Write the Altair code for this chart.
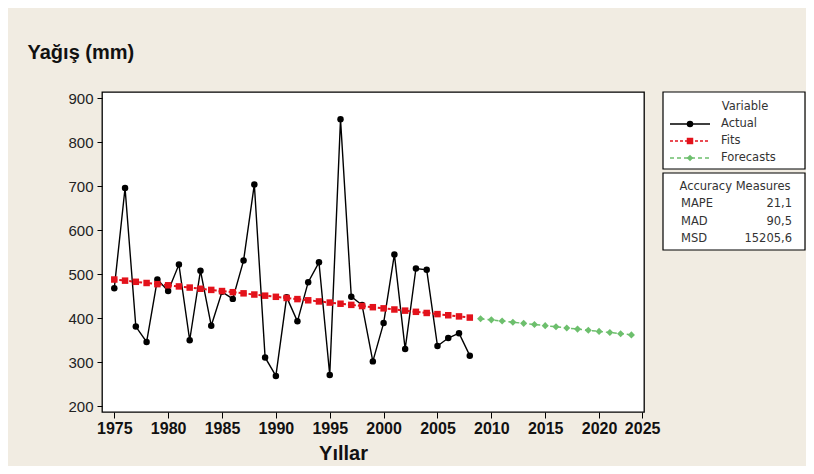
import json
import altair as alt
import pandas as pd

# ---------------- data ----------------
years_actual = list(range(1975, 2009))
actual = [468, 696, 381, 346, 488, 462, 522, 350, 508, 383,
          460, 444, 531, 704, 311, 269, 448, 393, 482, 527,
          271, 852, 449, 430, 302, 389, 545, 330, 513, 510,
          337, 355, 366, 315]
fits = [488.0, 485.4, 482.8, 480.1, 477.5, 474.9, 472.3, 469.7, 467.0, 464.4,
        461.8, 459.2, 456.6, 453.9, 451.3, 448.7, 446.1, 443.5, 440.8, 438.2,
        435.6, 433.0, 430.4, 427.7, 425.1, 422.5, 419.9, 417.3, 414.6, 412.0,
        409.4, 406.8, 404.2, 401.5]
years_forecast = list(range(2009, 2024))
forecasts = [398.9, 396.3, 393.7, 391.1, 388.4, 385.8, 383.2, 380.6, 378.0,
             375.3, 372.7, 370.1, 367.5, 364.9, 362.2]

x_tick_values = [1975, 1980, 1985, 1990, 1995, 2000, 2005, 2010, 2015, 2020, 2024]
x_tick_labels = ["1975", "1980", "1985", "1990", "1995", "2000", "2005",
                 "2010", "2015", "2020", "2025"]
y_tick_values = [200, 300, 400, 500, 600, 700, 800, 900]

series_names = ["Actual", "Fits", "Forecasts"]
series_colors = ["#000000", "#E3121B", "#6DBF6D"]
series_shapes = ["circle", "square", "diamond"]
series_dash = [[1, 0], [3, 2], [4, 3]]

measure_names = ["MAPE", "MAD", "MSD"]
measure_values = ["21,1", "90,5", "15205,6"]

BG = "#F1ECE2"
W, H = 542, 320

df_a = pd.DataFrame({"Yil": years_actual, "Deger": actual})
df_f = pd.DataFrame({"Yil": years_actual, "Deger": fits})
df_fc = pd.DataFrame({"Yil": years_forecast, "Deger": forecasts})

label_map = json.dumps({str(v): l for v, l in zip(x_tick_values, x_tick_labels)})

x_enc = alt.X(
    "Yil:Q",
    scale=alt.Scale(domain=[1973.86, 2024.17], nice=False, zero=False),
    axis=alt.Axis(
        values=x_tick_values,
        labelExpr=f"{label_map}[''+datum.value]",
        title="Yıllar",
        titleFont="Liberation Sans", titleFontSize=20, titleFontWeight="bold",
        titleColor="#111", titleX=241, titleY=47, titleAlign="center",
        titleBaseline="alphabetic",
        labelFont="Liberation Sans", labelFontSize=16, labelFontWeight="bold",
        labelColor="#111", labelPadding=2, tickSize=6, tickColor="#000",
        domain=False, grid=False, labelFlush=False, labelOverlap=False,
    ),
)
y_enc = alt.Y(
    "Deger:Q",
    scale=alt.Scale(domain=[187, 914], nice=False, zero=False),
    axis=alt.Axis(
        values=y_tick_values,
        title="Yağış (mm)",
        titleAngle=0, titleAlign="left", titleBaseline="alphabetic",
        titleX=-75, titleY=-34,
        titleFont="Liberation Sans", titleFontSize=20, titleFontWeight="bold",
        titleColor="#111",
        labelFont="Liberation Sans", labelFontSize=15, labelColor="#222",
        labelPadding=4, tickSize=5, tickColor="#000",
        domain=False, grid=False,
    ),
)

actual_line = alt.Chart(df_a).mark_line(color=series_colors[0], strokeWidth=1.4).encode(x=x_enc, y=y_enc)
actual_pts = alt.Chart(df_a).mark_point(filled=True, shape="circle", size=42,
                                        color=series_colors[0], opacity=1).encode(x="Yil:Q", y="Deger:Q")
fits_line = alt.Chart(df_f).mark_line(color=series_colors[1], strokeWidth=2,
                                      strokeDash=series_dash[1]).encode(x="Yil:Q", y="Deger:Q")
fits_pts = alt.Chart(df_f).mark_point(filled=True, shape="square", size=42,
                                      color=series_colors[1], opacity=1).encode(x="Yil:Q", y="Deger:Q")
fc_line = alt.Chart(df_fc).mark_line(color=series_colors[2], strokeWidth=1.5,
                                     strokeDash=series_dash[2]).encode(x="Yil:Q", y="Deger:Q")
fc_pts = alt.Chart(df_fc).mark_point(filled=True, shape="diamond", size=50,
                                     color=series_colors[2], opacity=1).encode(x="Yil:Q", y="Deger:Q")

one = pd.DataFrame({"k": [0]})
LF = "DejaVu Sans"
LFS = 11.5
layers = [actual_line, actual_pts, fits_line, fits_pts, fc_line, fc_pts]

# legend box 1
box_l, box_r = 561, 703
layers.append(alt.Chart(one).mark_rect(fill="white", stroke="#000", strokeWidth=1.2).encode(
    x=alt.value(box_l), x2=alt.value(box_r), y=alt.value(0), y2=alt.value(77)))
layers.append(alt.Chart(one).mark_text(font=LF, fontSize=LFS, color="#333", align="center",
                                       baseline="alphabetic").encode(
    x=alt.value(643), y=alt.value(18), text=alt.value("Variable")))
for i, (nm, col, shp, dash) in enumerate(zip(series_names, series_colors, series_shapes, series_dash)):
    yc = 32 + 17 * i
    layers.append(alt.Chart(one).mark_rule(color=col, strokeWidth=1.3, strokeDash=dash).encode(
        x=alt.value(568), x2=alt.value(608), y=alt.value(yc)))
    layers.append(alt.Chart(one).mark_point(filled=True, shape=shp, size=42, color=col, opacity=1).encode(
        x=alt.value(588), y=alt.value(yc)))
    layers.append(alt.Chart(one).mark_text(font=LF, fontSize=LFS, color="#333", align="left",
                                           baseline="middle").encode(
        x=alt.value(619), y=alt.value(yc), text=alt.value(nm)))

# legend box 2 (accuracy measures)
layers.append(alt.Chart(one).mark_rect(fill="white", stroke="#000", strokeWidth=1.2).encode(
    x=alt.value(box_l), x2=alt.value(box_r), y=alt.value(81), y2=alt.value(158)))
layers.append(alt.Chart(one).mark_text(font=LF, fontSize=LFS, color="#333", align="center",
                                       baseline="alphabetic").encode(
    x=alt.value(633), y=alt.value(98), text=alt.value("Accuracy Measures")))
for i, (nm, val) in enumerate(zip(measure_names, measure_values)):
    yb = 115 + 17.5 * i
    layers.append(alt.Chart(one).mark_text(font=LF, fontSize=LFS, color="#333", align="left",
                                           baseline="alphabetic").encode(
        x=alt.value(579), y=alt.value(yb), text=alt.value(nm)))
    layers.append(alt.Chart(one).mark_text(font=LF, fontSize=LFS, color="#333", align="right",
                                           baseline="alphabetic").encode(
        x=alt.value(690), y=alt.value(yb), text=alt.value(val)))

chart = alt.layer(*layers).properties(
    width=W, height=H,
    autosize=alt.AutoSizeParams(type="none"),
    padding={"left": 94, "top": 84, "right": 162, "bottom": 54},
    background=BG,
).configure_view(
    fill="white", stroke="#000", strokeWidth=1.3,
)

chart.save("out.html", embed_options={"renderer": "svg", "actions": False})
